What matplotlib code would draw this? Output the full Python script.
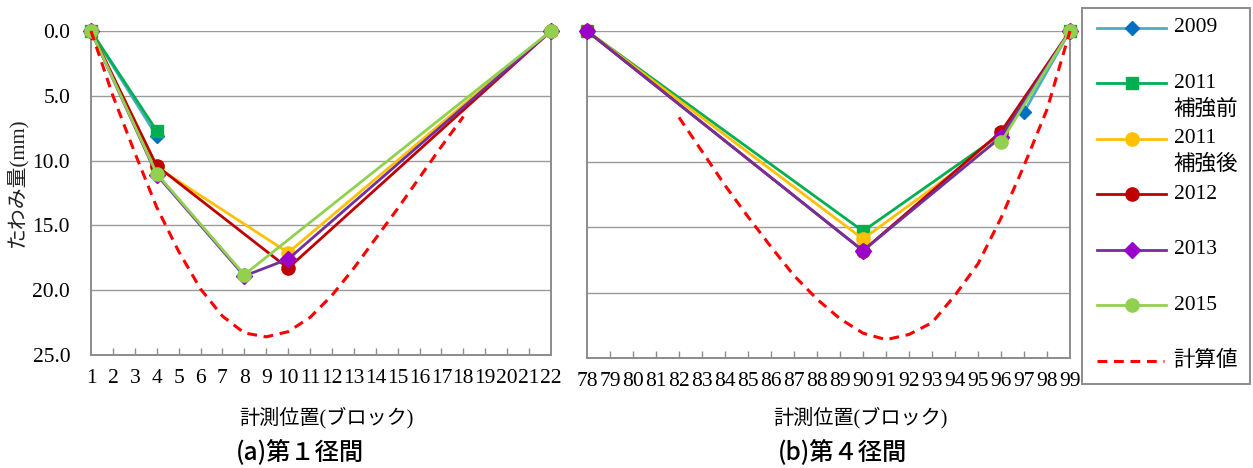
import matplotlib
matplotlib.use("Agg")
import matplotlib.pyplot as plt

# Deflection readings (mm) per measurement block
# --- span 1 (blocks 1-22) ---
s1_2009_x = [1, 4]
s1_2009_y = [0.0, 8.1]
s1_2011pre_x = [1, 4]
s1_2011pre_y = [0.0, 7.7]
s1_2011post_x = [1, 4, 10, 22]
s1_2011post_y = [0.0, 10.5, 17.1, 0.0]
s1_2012_x = [1, 4, 10, 22]
s1_2012_y = [0.0, 10.4, 18.3, 0.0]
s1_2013_x = [1, 4, 8, 10, 22]
s1_2013_y = [0.0, 11.1, 18.9, 17.6, 0.0]
s1_2015_x = [1, 4, 8, 22]
s1_2015_y = [0.0, 11.0, 18.8, 0.0]
s1_calc_x = list(range(1, 19))
s1_calc_y = [0.0, 5.0, 9.4, 13.6, 17.0, 19.9, 22.0, 23.3, 23.6,
             23.2, 22.1, 20.4, 18.3, 16.0, 13.7, 11.3, 8.9, 6.6]

# --- span 4 (blocks 78-99) ---
s4_2009_x = [97, 99]
s4_2009_y = [6.2, 0.0]
s4_2011pre_x = [78, 90, 96, 99]
s4_2011pre_y = [0.0, 15.3, 7.9, 0.0]
s4_2011post_x = [78, 90, 96, 99]
s4_2011post_y = [0.0, 15.9, 8.2, 0.0]
s4_2012_x = [78, 90, 96, 99]
s4_2012_y = [0.0, 16.8, 7.7, 0.0]
s4_2013_x = [78, 90, 96, 99]
s4_2013_y = [0.0, 16.8, 8.1, 0.0]
s4_2015_x = [96, 99]
s4_2015_y = [8.5, 0.0]
s4_calc_x = list(range(82, 100))
s4_calc_y = [6.6, 9.2, 11.8, 14.2, 16.5, 18.7, 20.5, 22.0, 23.1,
             23.6, 23.2, 22.3, 20.2, 17.8, 14.3, 10.3, 6.0, 0.0]

labels = ["2009", "2011\n補強前", "2011\n補強後", "2012", "2013", "2015", "計算値"]
line_colors = ["#4BACC6", "#00B050", "#FFC000", "#C00000", "#7030A0", "#92D050", "#FF0000"]
marker_colors = ["#0070C0", "#00B050", "#FFC000", "#C00000", "#9900CC", "#92D050", None]
markers = ["D", "s", "o", "o", "D", "o", None]
marker_sizes = [7, 8, 9.5, 9.5, 8.5, 9.5, 0]

span1 = [(s1_2009_x, s1_2009_y), (s1_2011pre_x, s1_2011pre_y),
         (s1_2011post_x, s1_2011post_y), (s1_2012_x, s1_2012_y),
         (s1_2013_x, s1_2013_y), (s1_2015_x, s1_2015_y), (s1_calc_x, s1_calc_y)]
span4 = [(s4_2009_x, s4_2009_y), (s4_2011pre_x, s4_2011pre_y),
         (s4_2011post_x, s4_2011post_y), (s4_2012_x, s4_2012_y),
         (s4_2013_x, s4_2013_y), (s4_2015_x, s4_2015_y), (s4_calc_x, s4_calc_y)]

plt.rcParams['font.serif'] = ['Liberation Serif', 'DejaVu Serif']
plt.rcParams['font.family'] = ['serif', 'Noto Sans CJK JP']
FONT = ['serif', 'Noto Sans CJK JP']
GOTHIC = ['Noto Sans CJK JP', 'DejaVu Sans']
GRAY = "#8C8C8C"
TICK_SIZE = 15.5

fig = plt.figure(figsize=(12.53, 4.68), dpi=100)
ax1 = fig.add_axes([91 / 1253, 1 - 355 / 468, 460 / 1253, 324 / 468])
ax2 = fig.add_axes([587 / 1253, 1 - 358 / 468, 483 / 1253, 327 / 468])


def draw_series(ax, data):
    for i, (x, y) in enumerate(data):
        if markers[i] is None:
            ax.plot(x, y, color=line_colors[i], lw=2.2, dashes=(3.2, 2.2), zorder=3 + i)
        else:
            ax.plot(x, y, color=line_colors[i], lw=2.0, marker=markers[i],
                    ms=marker_sizes[i], mfc=marker_colors[i], mec=marker_colors[i],
                    zorder=3 + i)


def style_axes(ax, lo, hi, show_y):
    ax.set_xlim(lo, hi)
    ax.set_ylim(25, 0)
    ax.set_xticks(range(lo, hi + 1))
    ax.set_yticks([0, 5, 10, 15, 20, 25])
    ax.yaxis.grid(True, color="#9A9A9A", lw=1.0)
    ax.set_axisbelow(True)
    for sp in ax.spines.values():
        sp.set_color(GRAY)
        sp.set_linewidth(1.4)
    ax.spines['top'].set_visible(False)
    ax.tick_params(axis='x', direction='in', length=5, color=GRAY, width=1,
                   labelsize=TICK_SIZE, pad=10)
    ax.tick_params(axis='y', length=0, labelsize=TICK_SIZE, pad=15, labelleft=show_y)
    if show_y:
        ax.set_yticklabels([f"{v:.1f}" for v in [0, 5, 10, 15, 20, 25]])
    for lab in ax.get_xticklabels() + ax.get_yticklabels():
        lab.set_family(FONT)
    # end ticks coincide with the frame, hide them
    xt = ax.xaxis.get_major_ticks()
    for t in (xt[0], xt[-1]):
        t.tick1line.set_visible(False)


draw_series(ax1, span1)
draw_series(ax2, span4)
style_axes(ax1, 1, 22, True)
style_axes(ax2, 78, 99, False)
for ax in (ax1, ax2):
    for ln in ax.lines:
        ln.set_clip_on(False)

fig.text(18 / 1253, 1 - 182 / 468, "たわみ量(mm)", rotation=90, ha='center',
         va='center', fontsize=15, family=FONT, color="#222222")
fig.text(326 / 1253, 1 - 418 / 468, "計測位置(ブロック)", ha='center', va='center',
         fontsize=14.5, family=FONT)
fig.text(860 / 1253, 1 - 418 / 468, "計測位置(ブロック)", ha='center', va='center',
         fontsize=14.5, family=FONT)
fig.text(300 / 1253, 1 - 452 / 468, "(a)第１径間", ha='center', va='center',
         fontsize=17.5, family=GOTHIC, weight='medium')
fig.text(842 / 1253, 1 - 452 / 468, "(b)第４径間", ha='center', va='center',
         fontsize=17.5, family=GOTHIC, weight='medium')

# legend panel
lax = fig.add_axes([1082 / 1253, 1 - 384 / 468, 168 / 1253, 376 / 468])
lax.set_xlim(0, 1)
lax.set_ylim(0, 1)
lax.set_xticks([])
lax.set_yticks([])
for sp in lax.spines.values():
    sp.set_color(GRAY)
    sp.set_linewidth(1.4)
slot = 55.5 / 376
line_gap = 26 / 376
for i, lab in enumerate(labels):
    yy = 0.947 - i * slot
    if markers[i] is None:
        lax.plot([0.09, 0.49], [yy, yy], color=line_colors[i], lw=2.2, dashes=(3.2, 2.2))
    else:
        lax.plot([0.09, 0.5], [yy, yy], color=line_colors[i], lw=2.0)
        lax.plot([0.295], [yy], marker=markers[i], ms=marker_sizes[i],
                 mfc=marker_colors[i], mec=marker_colors[i], ls='none')
    for j, part in enumerate(lab.split("\n")):
        lax.text(0.545, yy - j * line_gap, part, ha='left', va='center',
                 fontsize=15.5, family=FONT)

fig.savefig("out.png", dpi=100)
